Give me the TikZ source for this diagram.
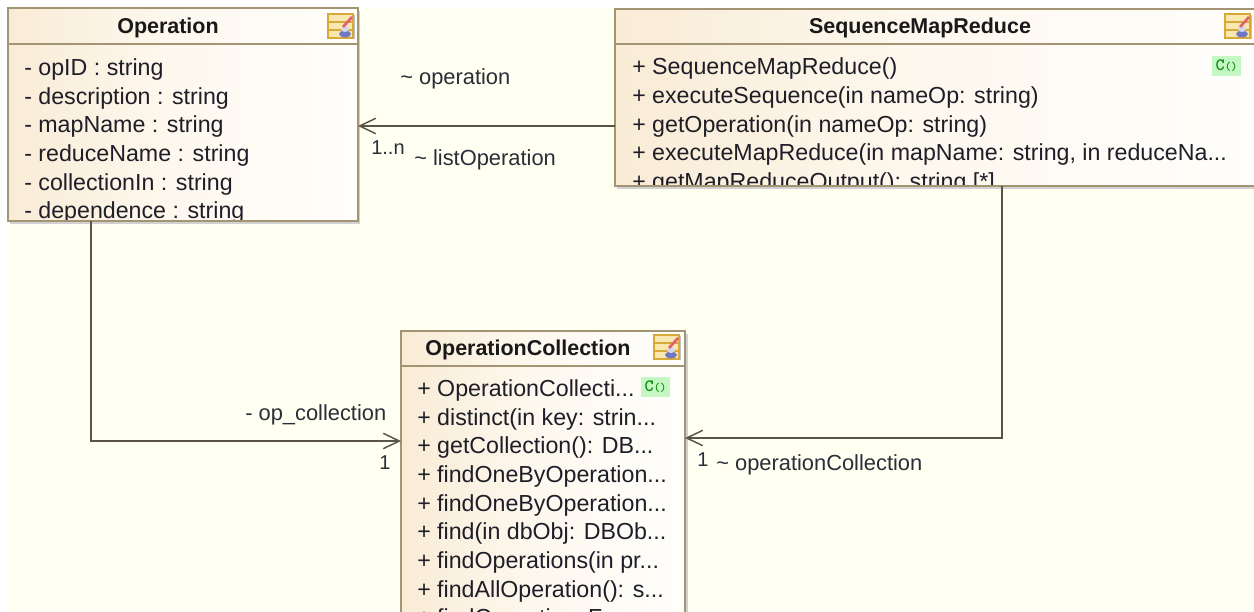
\documentclass[tikz,border=0pt]{standalone}
\usepackage{fontspec}
\setmainfont{Liberation Sans}
\usetikzlibrary{arrows.meta,calc}
\definecolor{bgc}{HTML}{FFFFF2}
\definecolor{edge}{HTML}{A39573}
\definecolor{tan1}{HTML}{F9ECD6}
\definecolor{tan2}{HTML}{FFFEFB}
\definecolor{conn}{HTML}{5A5444}
\definecolor{txt}{HTML}{1E1E28}
\definecolor{lab}{HTML}{2A2E38}
\definecolor{badge}{HTML}{C4F7C4}
\definecolor{badgeT}{HTML}{0A8A0A}
\definecolor{icoY}{HTML}{D8A838}
\definecolor{icoL}{HTML}{F8E8B0}
\definecolor{icoB}{HTML}{7078C0}
\definecolor{icoR}{HTML}{E06070}
\tikzset{
  x=0.75pt,y=-0.75pt,
  umlbox/.style={draw=edge,line width=1.5pt,left color=tan1,right color=tan2,middle color=tan2!70!tan1,anchor=north west,inner sep=0pt,outer sep=0pt},
  shadowbox/.style={fill=black!18,draw=none},
  member/.style={anchor=base west,inner sep=0pt,text=txt,font=\fontsize{17.4}{18}\selectfont},
  title/.style={anchor=base,inner sep=0pt,text=black!90,font=\fontsize{16.1}{18}\selectfont\bfseries},
  lbl/.style={anchor=base west,inner sep=0pt,text=lab,font=\fontsize{16.4}{18}\selectfont},
  lblsmall/.style={anchor=base west,inner sep=0pt,text=lab,font=\fontsize{15}{18}\selectfont},
  sep/.style={draw=edge,line width=1.2pt},
  assoc/.style={draw=conn,line width=1.1pt,-{Straight Barb[length=12pt,width=11.5pt,line width=1.1pt]}},
  tag/.style={fill=badge,inner sep=0pt,minimum width=21.5pt,minimum height=15pt,anchor=center,text=badgeT,font=\ttfamily\bfseries}
}
\newcommand{\tagtext}{{\fontsize{13}{13}\selectfont C}{\fontsize{9}{9}\selectfont ()}}
\newcommand{\umlicon}[2]{%
  \begin{scope}[shift={(#1,#2)}]
    \fill[black!25] (1,1) rectangle (27,25);
    \fill[icoL] (0,0) rectangle (25,24);
    \draw[icoY,line width=1.2pt] (0,0) rectangle (25,24) (0,8) -- (25,8) (0,16) -- (25,16);
    \fill[icoB] (17,20) ellipse (6 and 3.4);
    \fill[white!70!icoB] (17,15) ellipse (4 and 3);
    \draw[icoR,line width=2pt] (15,13) -- (24,3);
  \end{scope}}
\begin{document}
\begin{tikzpicture}
\useasboundingbox (0,0) rectangle (1254,611);
\clip (0,0) rectangle (1254,611);
\fill[white] (0,0) rectangle (1254,611);
\fill[bgc] (8,8) rectangle (1254,611);

% Operation
\fill[shadowbox] (10,11) rectangle (360,224);
\node[umlbox,minimum width=262.5pt,minimum height=159.5pt] (op) at (8,8) {};
\draw[sep] (op.west |- 0,44) -- (op.east |- 0,44);
\node[title] (opT) at (168,33) {Operation};
\umlicon{328}{14}
\begin{scope}
\clip (8,8) rectangle (358,221);
\node[member] (o1) at (24,75) {- opID : string};
\node[member] (o2) at (24,104) {- description : string};
\node[member] (o3) at (24,132.5) {- mapName : string};
\node[member] (o4) at (24,161) {- reduceName : string};
\node[member] (o5) at (24,190) {- collectionIn : string};
\node[member] (o6) at (24,218) {- dependence : string};
\end{scope}
\draw[edge,line width=1.5pt] (op.south west) -- (op.south east);

% SequenceMapReduce
\fill[shadowbox] (617,12) rectangle (1270,189);
\node[umlbox,minimum width=490pt,minimum height=132.5pt] (seq) at (615,9) {};
\draw[sep] (seq.west |- 0,44) -- (seq.east |- 0,44);
\node[title] (seqT) at (920,33) {SequenceMapReduce};
\umlicon{1225}{14}
\node[tag] (seqB) at (1226.5,66) {\tagtext};
\begin{scope}
\clip (615,9) rectangle (1270,186);
\node[member] (s1) at (632,74) {+ SequenceMapReduce()};
\node[member] (s2) at (632,103) {+ executeSequence(in nameOp: string)};
\node[member] (s3) at (632,132) {+ getOperation(in nameOp: string)};
\node[member] (s4) at (632,160.5) {+ executeMapReduce(in mapName: string, in reduceNa...};
\node[member] (s5) at (632,189) {+ getMapReduceOutput(): string [*]};
\end{scope}
\draw[edge,line width=1.5pt] (seq.south west) -- (seq.south east);

% OperationCollection
\fill[shadowbox] (403,334) rectangle (688,640);
\node[umlbox,minimum width=213pt,minimum height=225pt] (col) at (401,331) {};
\draw[sep] (col.west |- 0,366) -- (col.east |- 0,366);
\node[title] (colT) at (528,355) {OperationCollection};
\umlicon{654}{335}
\node[tag] (colB) at (655.5,387) {\tagtext};
\node[member] (c1) at (417,396) {+ OperationCollecti...};
\node[member] (c2) at (417,425) {+ distinct(in key: strin...};
\node[member] (c3) at (417,453.5) {+ getCollection(): DB...};
\node[member] (c4) at (417,482) {+ findOneByOperation...};
\node[member] (c5) at (417,511) {+ findOneByOperation...};
\node[member] (c6) at (417,539.5) {+ find(in dbObj: DBOb...};
\node[member] (c7) at (417,568.5) {+ findOperations(in pr...};
\node[member] (c8) at (417,597) {+ findAllOperation(): s...};
\node[member] (c9) at (417,625.5) {+ findOperationsF...};

% Connectors
\draw[assoc] (seq.west |- 0,126) -- (op.east |- 0,126);
\draw[assoc] (op.south -| 91,0) |- (col.west |- 0,441);
\draw[assoc] (seq.south -| 1002,0) |- (col.east |- 0,438);

% Labels
\node[lbl] (l1) at (400,84) {\textasciitilde\ operation};
\node[lblsmall] (l2) at (371,154) {1..n};
\node[lbl] (l3) at (414,165) {\textasciitilde\ listOperation};
\node[lbl] (l4) at (245,420) {- op\_collection};
\node[lblsmall] (l5) at (379,469) {1};
\node[lblsmall] (l6) at (697,466) {1};
\node[lbl] (l7) at (716,470) {\textasciitilde\ operationCollection};
\end{tikzpicture}
\end{document}
